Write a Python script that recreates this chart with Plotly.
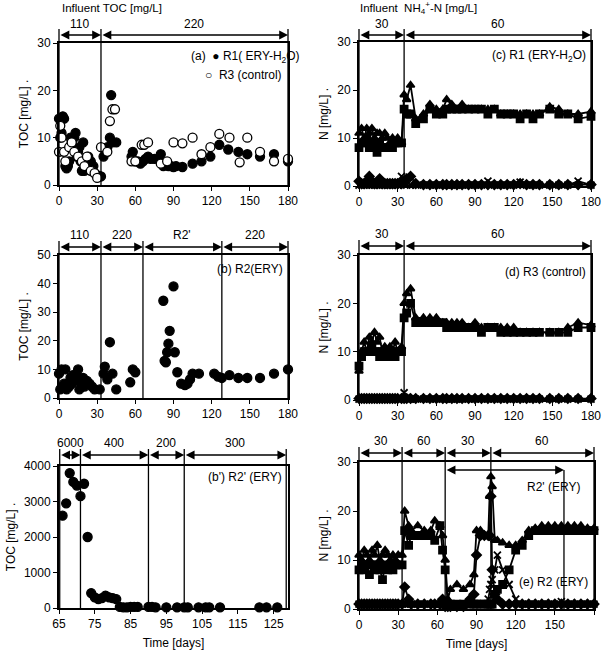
import plotly.graph_objects as go

# ---------- data ----------
a_r1_x = [0,1,2,3,4,5,6,7,8,9,10,11,12,13,14,15,16,17,18,19,20,21,22,23,24,25,26,27,28,30,31,32,33,35,38,40,41,42,45,57,58,60,62,64,66,68,70,72,75,80,82,86,88,90,92,97,105,112,119,126,133,141,148,158,169,180]
a_r1_y = [14,10,11,14.5,14,4,3.5,4,5,10,9,8,10,11,6,7,8,5,3,9,3,5,4,6,5,5,3,4,2.5,2,2,1.8,1.8,6,8,10,19,9,9,6,7,5,5,4.5,5,5.5,6,5.5,5.5,6.5,4,4,4,3.8,4,3.8,4.5,5,6,8.5,7.5,7,6.5,6,6.5,5]
a_r3_x = [0,1,2,4,5,8,10,12,15,18,20,22,25,28,30,33,38,40,42,44,57,60,65,67,70,80,85,90,97,105,112,119,126,134,142,148,158,169,180]
a_r3_y = [7,12.5,10,7,5,8,9,7,6,5,4,6,3,2.5,1.5,8,7,13.5,16,16,5,5,8.5,8.5,9,4.5,5,9,8.8,10,6.5,8,10.8,10,4.8,10,7,5,5.5]

b_x = [0,1,2,3,4,5,6,7,8,9,10,11,12,13,14,15,16,17,18,19,20,22,24,26,28,32,35,36,38,40,42,45,56,58,60,82,83,84,85,86,87,90,91,93,96,99,101,103,105,110,122,125,128,134,141,148,158,169,180]
b_y = [8.5,3,10,4,5,10,3,5,4,7,5,8,6,7,8,10,3,6,5,7,4,6,5,4,3,3,8.5,11,6.5,19.5,8.5,3,5.5,10,9,34,13,12.5,16,19,23.5,39,16,9,5,4.5,5,6.5,8.5,8.5,8.5,7.5,7,8,7,7,7,8.5,10]

bp_x = [66,67,68,69,70,71,72,73,74,75,76,77,78,79,80,81,82,83,84,85,86,87,90,91,92,95,98,100,101,104,106,107,110,121,123,126]
bp_y = [2600,2950,3800,3550,3450,3150,3500,2000,420,300,250,280,350,300,280,250,30,20,20,30,30,30,30,30,20,20,20,20,20,20,20,20,20,20,20,20]

cd_x = [0,2,4,6,8,10,12,14,16,18,20,22,24,26,28,30,33,35,37,40,44,50,55,60,65,68,72,76,80,85,90,95,100,105,110,115,120,125,130,135,140,148,155,162,170,180]
c_tri = [11,12,10,12,11,12,10,11,11,10,11,10,9,10,9,10,9,19,18,21,14,15,17,16,16,18,17,16,17,16,16,16,16,16,15,15,15,15,15,15,15,16.5,16,15,15,15.5]
c_sq = [8,9,9,10,8,9,8,7,9,8,8,8,8,8,9,9,9,16,15,15,13,14,16,15,15,16,16,16,16,16,16,16,15,16,15,15,15,14,15,14,15,16,15,15,14,14.5]
c_dia = [1,0.5,0.5,1,2,1,0.5,0.5,1.5,0.5,0.5,0.5,0.5,0.5,0.5,0.5,0.5,1,1.5,2,0.5,0.3,0.3,0.3,0.3,0.3,0.3,0.3,0.3,0.3,0.3,0.3,0.3,0.3,0.3,0.3,0.3,0.5,0.3,0.3,0.3,0.3,0.3,0.3,0.3,0.3]
c_x_ = [0.2,0.2,0.2,0.2,0.2,0.2,0.2,0.2,0.2,0.2,0.2,0.2,0.2,0.2,0.2,0.2,2,0.5,0.2,0.2,0.2,0.2,0.2,0.2,0.2,0.2,0.2,0.2,0.2,0.2,0.2,0.2,1,0.2,0.2,0.2,0.2,0.8,0.2,0.2,0.2,0.2,0.2,0.2,1,0.2]
d_tri = [6,10,12,10,13,12,14,12,13,10,11,10,11,10,12,10,11,20,22,23,17,17,17,17,16,16,16,16,16,15,16,15,15,15,15,15,15,14,14,14,14,14,14,15,16,15.5]
d_sq = [7,9,10,10,10,11,10,10,9,10,9,10,9,10,9,10,10,17,18,20,16,16,16,16,16,15,15,15,15,15,15,14,15,15,14,14,14,14,14,14,14,14,14,14,15,15]
d_dia = [0.3]*46
d_x_ = [0.2,0.2,0.2,0.2,0.2,0.2,0.2,0.2,0.2,0.2,0.2,0.2,0.2,0.2,0.2,0.2,0.2,1.5,0.5,0.2,0.2,0.2,0.2,0.2,0.2,0.2,0.2,0.2,0.2,0.2,0.2,0.2,0.2,0.2,0.2,0.2,0.2,0.2,0.2,0.2,0.2,0.2,0.2,0.2,0.2,0.2]

e_x = [0,2,4,6,8,10,12,14,16,18,20,22,24,26,28,30,33,35,38,40,45,50,55,58,62,64,66,68,70,75,80,85,88,90,93,96,99,100,101,102,104,106,110,115,120,125,130,135,140,145,150,155,160,165,170,175,180]
e_tri = [11,10,12,11,10,12,11,13,10,11,12,11,10,11,10,11,11,20,17,16,17,16,16,18,17,15,10,2,4,5,4,5,7,16,16,15,15,23,27,25,14,14,13.5,13,13,14,16,16.5,17,17,17,17,17,17,17,16.5,16.5]
e_sq = [8,9,8,9,7,9,8,9,8,6,9,8,9,8,9,9,9,16,13,15,15,15,15,14,17,12,8,1,1,1,1,1,1,1,1,1,1,1,1,1,3,4,5,8,12,13,15,16,16,16,16,16,16,16,16,16,16]
e_dia = [1,1,1,1,1,1,1,1,1,1,1,1,1,1,1,1,1,4.5,2,1,1,1,1,1,1,2,0.5,0.5,0.5,0.5,0.5,2,3,11,15,15,15,15,23,8,3,2,1,1,1,1,1,1,1,1,1,1,1,1,1,1,1]
e_cr = [1,1,1,1,1,1,1,1,1,1,1,1,1,1,1,1,1,1,1,1,1,1,1,1,1,1,1,1,1,1,1,1,1,1,1,1,2,4,5,6,8,11,8,5,2,1,1,1,1,1,1,1.5,1,1,1,1,1]

FONT = "Liberation Sans, Arial, sans-serif"
fig = go.Figure()

def dots(x, y, ax, filled=True):
    fig.add_trace(go.Scatter(x=x, y=y, mode="markers", xaxis="x"+ax, yaxis="y"+ax, cliponaxis=False,
        marker=dict(size=9, color="black" if filled else "white", symbol="circle",
                    line=dict(color="black", width=1.3)), showlegend=False))

def lines(x, ys, ax):
    for y, sym in zip(ys, ["triangle-up", "square", "diamond", "x-thin"]):
        fig.add_trace(go.Scatter(x=x, y=y, mode="lines+markers", xaxis="x"+ax, yaxis="y"+ax, cliponaxis=False,
            line=dict(color="black", width=1.8),
            marker=dict(size=7, symbol=sym, color="black", line=dict(color="black", width=1.8)),
            showlegend=False))

dots(a_r1_x, a_r1_y, "")
dots(a_r3_x, a_r3_y, "", filled=False)
lines(cd_x, [c_tri, c_sq, c_dia, c_x_], "2")
dots(b_x, b_y, "3")
lines(cd_x, [d_tri, d_sq, d_dia, d_x_], "4")
dots(bp_x, bp_y, "5")
lines(e_x, [e_tri, e_sq, e_dia, e_cr], "6")

W, H = 604, 655
panels = {
    "":  dict(xd=[59, 288], yd=[43, 185], xr=[0, 180], yr=[0, 30], yt=[0,10,20,30], title="TOC [mg/L] ."),
    "2": dict(xd=[359, 591], yd=[42, 186], xr=[0, 180], yr=[0, 30], yt=[0,10,20,30], title="N [mg/L] ."),
    "3": dict(xd=[59, 288], yd=[255, 398], xr=[0, 180], yr=[0, 50], yt=[0,10,20,30,40,50], title="TOC [mg/L] ."),
    "4": dict(xd=[359, 591], yd=[255, 400], xr=[0, 180], yr=[0, 30], yt=[0,10,20,30], title="N [mg/L] ."),
    "5": dict(xd=[59, 288], yd=[466, 608], xr=[65, 129], yr=[0, 4000], yt=[0,1000,2000,3000,4000], title="TOC [mg/L] .", xt=[65,75,85,95,105,115,125]),
    "6": dict(xd=[359, 594], yd=[462, 609], xr=[0, 180], yr=[0, 30], yt=[0,10,20,30], title="N [mg/L] ."),
}
lay = {}
for k, p in panels.items():
    xdom = [p["xd"][0]/W, p["xd"][1]/W]
    ydom = [1-p["yd"][1]/H, 1-p["yd"][0]/H]
    ax = dict(domain=xdom, range=p["xr"], showline=True, mirror=True, linewidth=2, linecolor="black",
              ticks="outside", ticklen=4, tickcolor="black", showgrid=False, zeroline=False,
              tickvals=p.get("xt", [0,30,60,90,120,150,180]), anchor="y"+k, automargin=False,
              tickfont=dict(size=12, family=FONT, color="black"))
    if k in ("5", "6"):
        ax["title"] = dict(text="Time [days]", font=dict(size=12, family=FONT, color="black"), standoff=8)
    ay = dict(domain=ydom, range=p["yr"], showline=True, mirror=True, linewidth=2, linecolor="black",
              ticks="outside", ticklen=4, tickcolor="black", showgrid=False, zeroline=False,
              tickvals=p["yt"], anchor="x"+k, automargin=False,
              tickfont=dict(size=12, family=FONT, color="black"),
              title=dict(text=p["title"], font=dict(size=12, family=FONT, color="black"), standoff=6))
    lay["xaxis"+k] = ax
    lay["yaxis"+k] = ay

def xpx(k, v):
    p = panels[k]
    return p["xd"][0] + (v - p["xr"][0]) / (p["xr"][1] - p["xr"][0]) * (p["xd"][1] - p["xd"][0])

shapes, anns = [], []
def vline(k, v, ytop_px, ybot_px):
    xp = xpx(k, v) / W
    shapes.append(dict(type="line", xref="paper", yref="paper", x0=xp, x1=xp,
                       y0=1-ybot_px/H, y1=1-ytop_px/H, line=dict(color="black", width=1.3)))

def arrow(k, v0, v1, y_px):
    x0, x1 = xpx(k, v0), xpx(k, v1)
    anns.append(dict(xref="paper", yref="paper", x=x1/W, y=1-y_px/H, ax=-(x1-x0), ay=0,
                     text="", showarrow=True, arrowside="end+start", arrowhead=2, arrowsize=1.1,
                     arrowwidth=1.6, arrowcolor="black"))

def bracket(k, bounds, labels, yA_px, gap=12):
    for b in bounds:
        vline(k, b, yA_px - 6, panels[k]["yd"][1])
    for x0, x1, lab in zip(bounds[:-1], bounds[1:], labels):
        arrow(k, x0, x1, yA_px)
        anns.append(dict(xref="paper", yref="paper", x=(xpx(k, x0)+xpx(k, x1))/2/W, y=1-(yA_px-gap)/H,
                         xanchor="center", yanchor="middle", text=lab, showarrow=False,
                         font=dict(size=12, family=FONT, color="black")))

bracket("", [0, 33, 180], ["110", "220"], 35, 11)
bracket("3", [0, 33, 66, 128, 180], ["110", "220", "R2'", "220"], 247)
bracket("5", [65.2, 71, 90, 100, 128.5], ["6000", "400", "200", "300"], 455)
bracket("2", [0, 35, 180], ["30", "60"], 35, 11)
bracket("4", [0, 35, 180], ["30", "60"], 246)
bracket("6", [0, 33, 66, 101, 180], ["30", "60", "30", "60"], 453)
# inner R2' arrow in (e)
vline("6", 157, 470, 609)
arrow("6", 66, 157, 470)

def txt(ax, x, y, s, xanchor="left"):
    anns.append(dict(xref="x"+ax, yref="y"+ax, x=x, y=y, text=s, showarrow=False, xanchor=xanchor,
                     yanchor="middle", font=dict(size=12, family=FONT, color="black")))

txt("", 102, 27, "(a)  ● R1( ERY-H<sub>2</sub>O)")
txt("", 113, 23.3, "○  R3 (control)")
txt("3", 178, 45, "(b) R2(ERY)", "right")
txt("5", 128, 3700, "(b') R2' (ERY)", "right")
txt("2", 178, 27, "(c) R1 (ERY-H<sub>2</sub>O)", "right")
txt("4", 178, 26.5, "(d) R3 (control)", "right")
txt("6", 127, 25, "R2' (ERY)")
txt("6", 177, 5.5, "(e) R2 (ERY)", "right")
anns.append(dict(xref="paper", yref="paper", x=60/W, y=1-8/H, text="Influent TOC [mg/L]", showarrow=False,
                 xanchor="left", yanchor="middle", font=dict(size=11.5, family=FONT, color="black")))
anns.append(dict(xref="paper", yref="paper", x=358/W, y=1-8/H, text="Influent  NH<sub>4</sub><sup>+</sup>-N [mg/L]",
                 showarrow=False, xanchor="left", yanchor="middle", font=dict(size=11.5, family=FONT, color="black")))

fig.update_layout(width=W, height=H, margin=dict(l=0, r=0, t=0, b=0, autoexpand=False), plot_bgcolor="white",
                  paper_bgcolor="white", shapes=shapes, annotations=anns, showlegend=False,
                  font=dict(family=FONT, size=12, color="black"), **lay)
fig.write_html("out.html", config={"displayModeBar": False},
               post_script="document.body.style.margin='0';document.body.style.overflow='hidden';")
